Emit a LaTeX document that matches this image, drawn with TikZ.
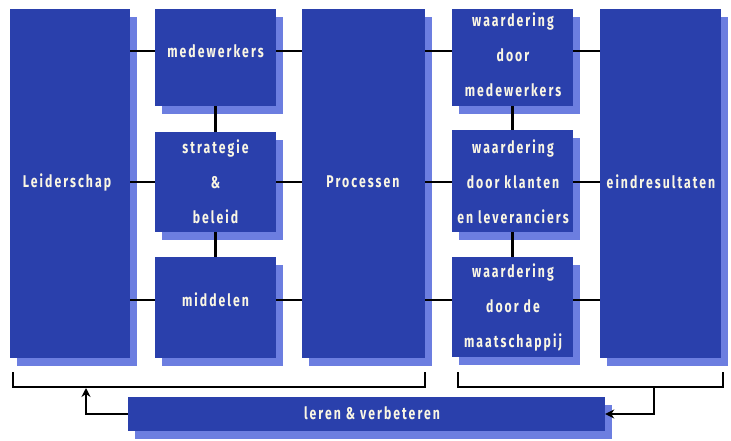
\documentclass[tikz,border=0pt]{standalone}
\usepackage{fontspec}
\setmainfont{Fira Sans}[FakeStretch=0.72, LetterSpace=12]
\usetikzlibrary{shadows,arrows.meta}
\definecolor{boxblue}{RGB}{42,64,172}
\definecolor{shadowblue}{RGB}{108,126,224}
\definecolor{txt}{RGB}{250,246,228}
\begin{document}
\begin{tikzpicture}[x=1pt,y=-1pt,
  box/.style={fill=boxblue, draw=none, inner sep=0pt,
    drop shadow={shadow xshift=7pt,shadow yshift=-8pt,fill=shadowblue,opacity=1}},
  lbl/.style={text=txt, font=\bfseries\fontsize{17}{35}\selectfont, align=center, inner sep=0pt},
  conn/.style={line width=2.6pt, black},
  tip/.style={-{Stealth[length=9pt,width=9pt]}}]
\useasboundingbox (0,0) rectangle (731,441);
% boxes
\node[box, minimum width=120pt, minimum height=349pt] (L)  at (70,183.5) {};
\node[box, minimum width=121pt, minimum height=97pt]  (M1) at (215.5,57.5) {};
\node[box, minimum width=121pt, minimum height=100pt] (S)  at (215.5,182) {};
\node[box, minimum width=121pt, minimum height=101pt] (Mi) at (215.5,307.5) {};
\node[box, minimum width=123pt, minimum height=349pt] (P)  at (363.5,183.5) {};
\node[box, minimum width=121pt, minimum height=97pt]  (W1) at (512.5,57.5) {};
\node[box, minimum width=121pt, minimum height=102pt] (W2) at (512.5,181) {};
\node[box, minimum width=121pt, minimum height=100pt] (W3) at (512.5,307) {};
\node[box, minimum width=121pt, minimum height=349pt] (E)  at (660.5,183.5) {};
\node[box, minimum width=477pt, minimum height=34pt]  (R)  at (366.5,414) {};
% labels
\node[lbl] (tL)  at (67,182)  {Leiderschap};
\node[lbl] (tM1) at (215.5,51)  {medewerkers};
\node[lbl] (tS)  at (S.center)  {strategie\\\&\\beleid};
\node[lbl] (tMi) at (215.5,300) {middelen};
\node[lbl] (tP)  at (363,182)  {Processen};
\node[lbl] (tW1) at (513,55) {waardering\\door\\medewerkers};
\node[lbl] (tW2) at (513,182) {waardering\\door klanten\\en leveranciers};
\node[lbl] (tW3) at (513,307) {waardering\\door de\\maatschappij};
\node[lbl] (tE)  at (661,182)  {eindresultaten};
\node[lbl] (tR)  at (372,413) {leren \& verbeteren};
% horizontal connectors
\draw[conn] (L.east |- tM1) -- (tM1 -| M1.west);
\draw[conn] (L.east |- tS) -- (tS -| S.west);
\draw[conn] (L.east |- tMi) -- (tMi -| Mi.west);
\draw[conn] (M1.east |- tM1) -- (tM1 -| P.west);
\draw[conn] (S.east |- tS) -- (tS -| P.west);
\draw[conn] (Mi.east |- tMi) -- (tMi -| P.west);
\draw[conn] (P.east |- tM1) -- (tM1 -| W1.west);
\draw[conn] (P.east |- tS) -- (tS -| W2.west);
\draw[conn] (P.east |- tMi) -- (tMi -| W3.west);
\draw[conn] (W1.east |- tM1) -- (tM1 -| E.west);
\draw[conn] (W2.east |- tS) -- (tS -| E.west);
\draw[conn] (W3.east |- tMi) -- (tMi -| E.west);
% vertical connectors
\draw[conn] (M1.south) -- (S.north);
\draw[conn] (S.south) -- (Mi.north);
\draw[conn] (W1.south) -- (W2.north);
\draw[conn] (W2.south) -- (W3.north);
% brackets
\coordinate (lb1) at (13,372);
\coordinate (lb2) at (425,372);
\coordinate (rb1) at (458,372);
\coordinate (rb2) at (723,372);
\coordinate (rbo) at (654,387);
\coordinate (lbi) at (86,388);
\draw[conn, line width=2pt] (lb1) -- ++(0,15) -| (lb2);
\draw[conn, line width=2pt] (rb1) -- ++(0,15) -| (rb2);
\draw[conn, tip] (rbo) |- (R.east);
\draw[conn, tip] (R.west) -| (lbi);
\end{tikzpicture}
\end{document}
